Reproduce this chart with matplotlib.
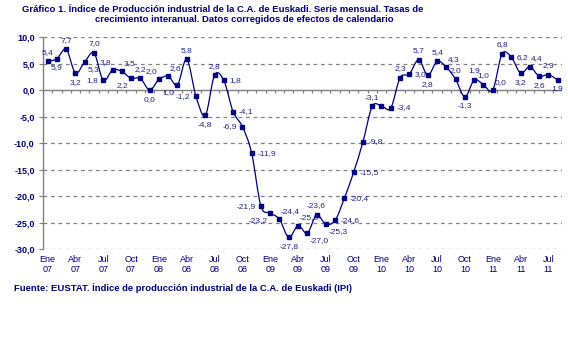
import matplotlib
import numpy as np

matplotlib.use("Agg")
import matplotlib.pyplot as plt
from matplotlib.path import Path
from matplotlib.patches import PathPatch

# Tasas de variación interanual del IPI (Ene 07 - Ago 11)
rates_2007 = [5.4, 5.9, 7.7, 3.2, 5.3, 7.0, 1.8, 3.8, 3.5, 2.2, 2.2, 0.0]
rates_2008 = [2.0, 2.6, 1.0, 5.8, -1.2, -4.8, 2.8, 1.8, -4.1, -6.9, -11.9, -21.9]
rates_2009 = [-23.2, -24.4, -27.8, -25.6, -27.0, -23.6, -25.3, -24.6, -20.4, -15.5, -9.8, -3.1]
rates_2010 = [-3.0, -3.4, 2.3, 3.0, 5.7, 2.8, 5.4, 4.3, 2.0, -1.3, 1.9, 1.0]
rates_2011 = [0.0, 6.8, 6.2, 3.2, 4.4, 2.6, 2.9, 1.9]

quarter_months = ["Ene", "Abr", "Jul", "Oct"]
years = ["07", "08", "09", "10", "11"]
y_ticks = [10, 5, 0, -5, -10, -15, -20, -25, -30]

# where each data label sits relative to its point ("" = hidden)
label_pos = (
    ["a", "b", "a", "b", "br", "a", "l", "al", "ar", "bl", "a", "b"]
    + ["al", "ar", "bl", "a", "l", "b", "a", "r", "r", "l", "r", "l"]
    + ["bl", "ar", "b", "ar", "br", "a", "br", "r", "r", "r", "r", "a"]
    + ["", "r", "a", "r", "a", "b", "a", "ar", "a", "b", "a", "a"]
    + ["ar", "a", "r", "b", "ar", "b", "a", "b"]
)

NAVY = "#000080"
LBL = "#22228a"
GRID = "#808080"

values = np.array(rates_2007 + rates_2008 + rates_2009 + rates_2010 + rates_2011)
x = np.arange(len(values))

plt.rcParams["font.family"] = ["Liberation Sans Narrow", "Liberation Sans", "DejaVu Sans"]

fig = plt.figure(figsize=(5.68, 3.40), dpi=100)
ax = fig.add_axes([0.0757, 0.2676, 0.9143, 0.6235])

# smoothed line (Excel-style Bezier through the points)
pts = np.column_stack([x, values]).astype(float)
verts = [pts[0]]
codes = [Path.MOVETO]
n = len(pts)
for i in range(n - 1):
    p0 = pts[max(i - 1, 0)]
    p1 = pts[i]
    p2 = pts[i + 1]
    p3 = pts[min(i + 2, n - 1)]
    verts += [p1 + (p2 - p0) / 6, p2 - (p3 - p1) / 6, p2]
    codes += [Path.CURVE4] * 3
ax.add_patch(PathPatch(Path(verts, codes), fill=False, edgecolor=NAVY, lw=0.9, zorder=3))
ax.plot(x, values, ls="none", marker="s", ms=2.8, color=NAVY, zorder=4)

# grid, axis lines
for v in y_ticks:
    if v != 0:
        ax.axhline(v, color=GRID, lw=0.9, ls=(0, (3, 3)), zorder=1)
ax.axhline(0, color=GRID, lw=1.0, zorder=2)
ax.vlines(np.arange(len(values) + 1) - 0.5, -0.6, 0, color=GRID, lw=0.9, zorder=2)

ax.set_xlim(-0.5, len(values) - 0.5)
ax.set_ylim(-30, 10)
for s in ["top", "right", "bottom"]:
    ax.spines[s].set_visible(False)
ax.spines["left"].set_color(GRID)
ax.spines["left"].set_linewidth(1.0)

ax.set_yticks(y_ticks)
ax.set_yticklabels([f"{v:.1f}".replace(".", ",") for v in y_ticks],
                   fontsize=6.5, color=NAVY, fontweight="bold")
ax.tick_params(axis="y", length=3, color=GRID, pad=3)

xt = np.arange(0, len(values), 3)
xl = [f"{quarter_months[(i // 3) % 4]}\n{years[i // 12]}" for i in xt]
ax.set_xticks(xt)
ax.set_xticklabels(xl, fontsize=6.5, color=NAVY, linespacing=1.15)
ax.tick_params(axis="x", length=0, pad=4.5)

offsets = {
    "a": ((0, 4), "center", "bottom"),
    "b": ((0, -4), "center", "top"),
    "r": ((4, 0), "left", "center"),
    "l": ((-4, 0), "right", "center"),
    "ar": ((1, 3), "left", "bottom"),
    "al": ((-1, 3), "right", "bottom"),
    "br": ((2, -3), "left", "top"),
    "bl": ((-2, -3), "right", "top"),
}
for xi, yi, pos in zip(x, values, label_pos):
    if not pos:
        continue
    off, ha, va = offsets[pos]
    ax.annotate(f"{yi:.1f}".replace(".", ","), (xi, yi), xytext=off,
                textcoords="offset points", ha=ha, va=va,
                fontsize=6, color=LBL, zorder=5)

fig.text(223 / 568, 1 - 9 / 340,
         "Gráfico 1. Índice de Producción industrial de la C.A. de Euskadi. Serie mensual. Tasas de",
         ha="center", va="center", fontsize=6.8, fontweight="bold", color=NAVY)
fig.text(244 / 568, 1 - 20 / 340,
         "crecimiento interanual. Datos corregidos de efectos de calendario",
         ha="center", va="center", fontsize=6.8, fontweight="bold", color=NAVY)
fig.text(14 / 568, 1 - 288 / 340,
         "Fuente: EUSTAT. Índice de producción industrial de la C.A. de Euskadi (IPI)",
         ha="left", va="center", fontsize=6.8, fontweight="bold", color=NAVY)

fig.savefig("out.png", dpi=100)
